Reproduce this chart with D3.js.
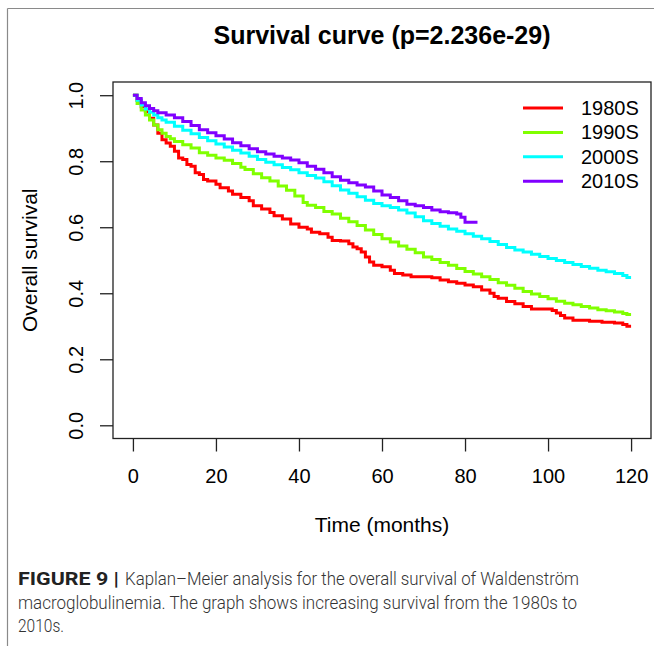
<!DOCTYPE html>
<html>
<head>
<meta charset="utf-8">
<script src="https://cdn.jsdelivr.net/npm/d3@7"></script>
<style>
  html, body { margin: 0; padding: 0; background: #fff; }
  svg { display: block; }
  text { font-family: "Liberation Sans", Arial, Helvetica, sans-serif; fill: #000; }
  .caption text { font-family: "Roboto", "Liberation Sans", sans-serif; font-weight: 300; fill: #333; }
  .caption text.lead { font-weight: bold; fill: #222; }
</style>
</head>
<body>
<svg id="chart" width="654" height="646"></svg>
<script>
// Kaplan–Meier survival estimates by decade of diagnosis: [months, survival]
const km1980s = [
  [0,1.0],[1,0.985],[2,0.965],[3,0.95],[4,0.93],[5,0.91],[6,0.885],[7,0.865],[8,0.855],[9,0.845],
  [10,0.83],[11,0.81],[12,0.805],[13,0.79],[14,0.785],[15,0.765],[16,0.76],[17,0.745],[18,0.74],
  [20,0.73],[21,0.72],[23,0.71],[24,0.70],[26,0.69],[28,0.68],[29,0.665],[31,0.655],[33,0.645],
  [34,0.635],[36,0.625],[38,0.61],[40,0.60],[42,0.595],[43,0.585],[45,0.58],[47,0.57],[48,0.56],
  [50,0.558],[52,0.55],[53,0.54],[54,0.535],[55,0.525],[56,0.51],[57,0.495],[58,0.485],[60,0.48],
  [62,0.47],[63,0.46],[65,0.455],[67,0.45],[72,0.447],[74,0.44],[76,0.435],[78,0.43],[80,0.425],
  [82,0.42],[84,0.41],[86,0.40],[87,0.39],[88,0.385],[90,0.375],[92,0.368],[94,0.36],[96,0.352],
  [101,0.348],[102,0.34],[103,0.333],[104,0.325],[106,0.318],[110,0.315],[113,0.312],[116,0.31],
  [118,0.305],[119,0.30],[120,0.30]
];
const km1990s = [
  [0,1.0],[1,0.975],[2,0.955],[3,0.94],[4,0.925],[5,0.91],[6,0.895],[7,0.885],[8,0.875],[9,0.868],
  [10,0.86],[12,0.85],[14,0.84],[16,0.826],[18,0.818],[20,0.81],[22,0.803],[24,0.793],[26,0.782],
  [27,0.775],[29,0.762],[31,0.75],[33,0.74],[35,0.725],[37,0.712],[39,0.695],[41,0.675],[42,0.667],
  [44,0.66],[46,0.648],[48,0.64],[50,0.627],[52,0.617],[54,0.605],[56,0.592],[58,0.578],[60,0.565],
  [62,0.555],[64,0.543],[66,0.533],[68,0.523],[70,0.51],[72,0.502],[74,0.493],[76,0.485],[78,0.475],
  [80,0.466],[82,0.458],[84,0.45],[86,0.442],[88,0.432],[90,0.424],[92,0.415],[94,0.405],[96,0.398],
  [98,0.39],[100,0.383],[102,0.376],[104,0.37],[106,0.365],[108,0.36],[110,0.355],[112,0.35],
  [114,0.347],[116,0.343],[118,0.339],[119,0.336],[120,0.336]
];
const km2000s = [
  [0,1.0],[1,0.985],[2,0.97],[3,0.958],[4,0.948],[5,0.94],[6,0.932],[7,0.925],[8,0.918],[10,0.906],
  [12,0.894],[14,0.883],[16,0.872],[18,0.862],[20,0.852],[22,0.843],[24,0.833],[26,0.825],[28,0.815],
  [30,0.805],[32,0.797],[34,0.789],[36,0.781],[38,0.774],[40,0.765],[42,0.757],[44,0.749],[46,0.738],
  [48,0.726],[50,0.713],[52,0.703],[54,0.692],[56,0.682],[58,0.672],[60,0.665],[62,0.66],[64,0.652],
  [66,0.643],[68,0.632],[70,0.62],[72,0.611],[74,0.603],[76,0.595],[78,0.588],[80,0.58],[82,0.573],
  [84,0.565],[86,0.557],[88,0.548],[90,0.539],[92,0.531],[94,0.525],[96,0.518],[98,0.511],[100,0.505],
  [102,0.499],[104,0.493],[106,0.487],[108,0.481],[110,0.476],[112,0.47],[114,0.465],[116,0.46],
  [118,0.454],[119,0.448],[120,0.448]
];
const km2010s = [
  [0,1.0],[1,0.99],[2,0.977],[3,0.968],[4,0.96],[5,0.953],[6,0.947],[8,0.94],[10,0.932],[12,0.92],
  [14,0.908],[16,0.895],[18,0.886],[20,0.877],[22,0.867],[24,0.856],[26,0.847],[28,0.838],[30,0.829],
  [32,0.822],[34,0.815],[36,0.81],[38,0.804],[40,0.795],[42,0.785],[44,0.776],[46,0.765],[48,0.753],
  [50,0.742],[52,0.735],[54,0.728],[56,0.722],[58,0.71],[60,0.698],[62,0.69],[64,0.68],[66,0.67],
  [68,0.665],[70,0.66],[72,0.652],[74,0.647],[76,0.644],[78,0.64],[79,0.63],[80,0.615],[83,0.615]
];

const groupNames = ["1980S", "1990S", "2000S", "2010S"];
const groupColors = ["#FF0000", "#80FF00", "#00FFFF", "#8000FF"];
const groupData = [km1980s, km1990s, km2000s, km2010s];

const xTicks = [0, 20, 40, 60, 80, 100, 120];
const yTicks = [0.0, 0.2, 0.4, 0.6, 0.8, 1.0];

const titleText = "Survival curve (p=2.236e-29)";
const xLabel = "Time (months)";
const yLabel = "Overall survival";

const svg = d3.select("#chart");

// page frame lines (left and top)
svg.append("line").attr("x1", 7.5).attr("x2", 7.5).attr("y1", 8.5).attr("y2", 646)
  .attr("stroke", "#8a8a8a").attr("stroke-width", 1.2);
svg.append("line").attr("x1", 7.5).attr("x2", 654).attr("y1", 8.5).attr("y2", 8.5)
  .attr("stroke", "#8a8a8a").attr("stroke-width", 1.2);

// plot region with 4% padding on both axes
const box = { left: 113, right: 651, top: 82, bottom: 438.5 };
const xDom = [0, 120], yDom = [0, 1];
const xPad = (xDom[1] - xDom[0]) * 0.04, yPad = (yDom[1] - yDom[0]) * 0.04;
const x = d3.scaleLinear().domain([xDom[0] - xPad, xDom[1] + xPad]).range([box.left, box.right]);
const y = d3.scaleLinear().domain([yDom[0] - yPad, yDom[1] + yPad]).range([box.bottom, box.top]);

// curves
const line = d3.line().x(d => x(d[0])).y(d => y(d[1])).curve(d3.curveStepAfter);
groupData.forEach((data, i) => {
  svg.append("path").datum(data)
    .attr("d", line)
    .attr("fill", "none")
    .attr("stroke", groupColors[i])
    .attr("stroke-width", 3)
    .attr("stroke-linejoin", "miter")
    .attr("stroke-linecap", "butt");
});

// box
svg.append("rect")
  .attr("x", box.left).attr("y", box.top)
  .attr("width", box.right - box.left).attr("height", box.bottom - box.top)
  .attr("fill", "none").attr("stroke", "#222").attr("stroke-width", 1.3);

// axes
const fs = 20;
const fsLab = 21;
const xAxis = d3.axisBottom(x).tickValues(xTicks).tickSize(13).tickPadding(17)
  .tickFormat(d3.format("d"));
const gx = svg.append("g").attr("transform", `translate(0,${box.bottom})`).call(xAxis);
gx.select(".domain").remove();
gx.selectAll(".tick line").attr("stroke", "#222").attr("stroke-width", 1.3);
gx.selectAll(".tick text").attr("font-size", fs).attr("font-family", "Liberation Sans, Arial, sans-serif").attr("fill", "#000");

const yAxis = d3.axisLeft(y).tickValues(yTicks).tickSize(13).tickFormat(d3.format(".1f"));
const gy = svg.append("g").attr("transform", `translate(${box.left},0)`).call(yAxis);
gy.select(".domain").remove();
gy.selectAll(".tick line").attr("stroke", "#222").attr("stroke-width", 1.3);
gy.selectAll(".tick text")
  .attr("font-size", fs).attr("font-family", "Liberation Sans, Arial, sans-serif").attr("fill", "#000")
  .attr("x", null).attr("dy", null)
  .attr("text-anchor", "middle")
  .attr("transform", "translate(-30,0) rotate(-90)");

// titles
const cx = (box.left + box.right) / 2;
svg.append("text").attr("x", cx).attr("y", 44).attr("text-anchor", "middle")
  .attr("font-size", 25).attr("font-weight", "bold").text(titleText);
svg.append("text").attr("x", cx).attr("y", 532).attr("text-anchor", "middle")
  .attr("font-size", fsLab).text(xLabel);
svg.append("text").attr("transform", `translate(37,${(box.top + box.bottom) / 2}) rotate(-90)`)
  .attr("text-anchor", "middle").attr("font-size", fsLab).text(yLabel);

// legend
const leg = svg.append("g");
groupNames.forEach((name, i) => {
  const ly = 108 + i * 24.4;
  leg.append("line").attr("x1", 523).attr("x2", 563).attr("y1", ly).attr("y2", ly)
    .attr("stroke", groupColors[i]).attr("stroke-width", 3);
  leg.append("text").attr("x", 581).attr("y", ly + 7).attr("font-size", fs).text(name);
});

// caption, each run fitted to its set width
const cap = svg.append("g").attr("class", "caption");
const capRuns = [
  { text: "FIGURE 9 |", x: 18, w: 101, y: 585, lead: true },
  { text: "Kaplan\u2013Meier analysis for the overall survival of Waldenstr\u00f6m", x: 125, w: 454, y: 585 },
  { text: "macroglobulinemia. The graph shows increasing survival from the 1980s to", x: 18, w: 559, y: 609 },
  { text: "2010s.", x: 18, w: 46, y: 632 }
];
capRuns.forEach(r => {
  cap.append("text").attr("class", r.lead ? "lead" : null)
    .attr("x", r.x).attr("y", r.y).attr("font-size", 17.5)
    .attr("textLength", r.w).attr("lengthAdjust", "spacingAndGlyphs")
    .text(r.text);
});
</script>
</body>
</html>
